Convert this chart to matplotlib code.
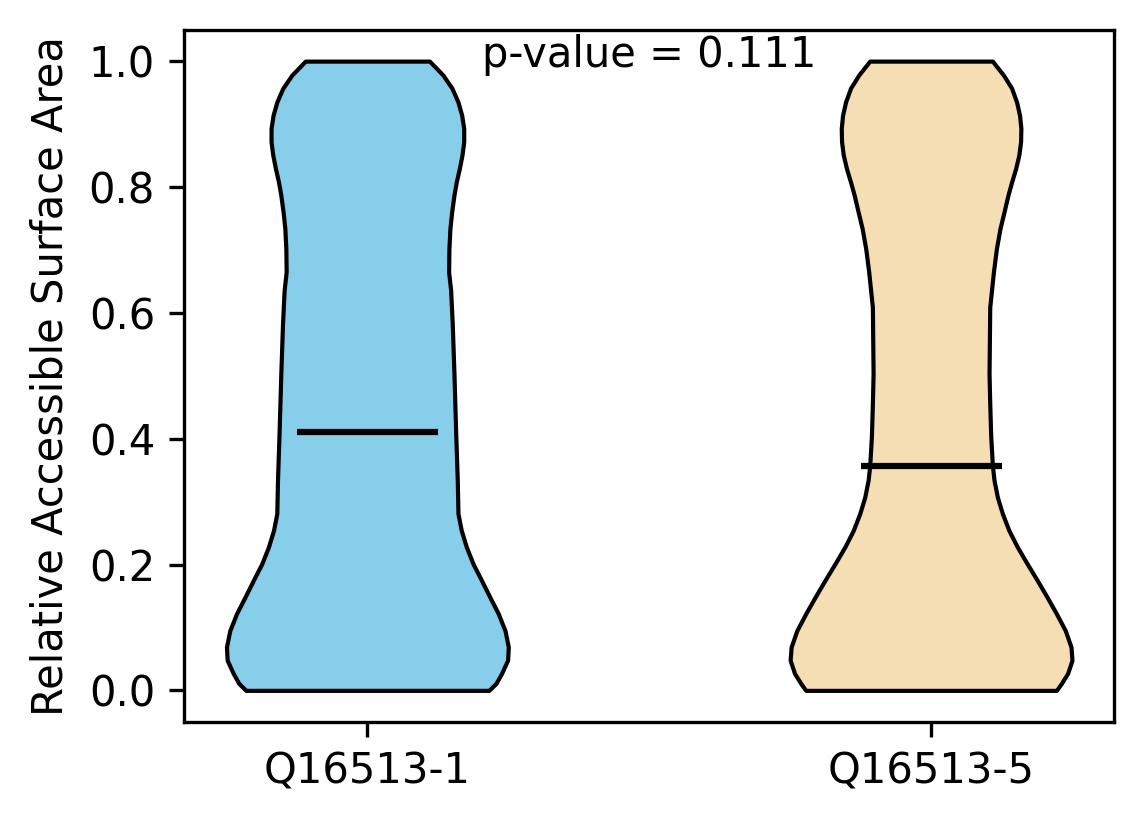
import numpy as np
import matplotlib
matplotlib.use("Agg")
import matplotlib.pyplot as plt

# groups and annotation
labels = ['Q16513-1', 'Q16513-5']
colors = ['skyblue', 'wheat']
p_value = 0.111

# violin outlines: RSA level -> relative density (half width)
rsa_1 = [0.0, 0.011, 0.027, 0.048, 0.069, 0.095, 0.122, 0.148, 0.175, 0.201,
         0.228, 0.254, 0.281, 0.334, 0.411, 0.504, 0.583, 0.636, 0.665, 0.702,
         0.734, 0.760, 0.787, 0.808, 0.829, 0.851, 0.872, 0.893, 0.914, 0.935,
         0.957, 0.978, 1.0]
dens_1 = [120.7, 127.7, 133.3, 139.3, 140.0, 136.7, 130.0, 121.7, 113.3, 105.0,
          98.3, 93.3, 90.0, 89.3, 87.7, 86.0, 84.3, 82.7, 80.7, 81.0,
          82.0, 83.7, 86.0, 88.3, 91.3, 94.0, 95.7, 95.7, 93.7, 90.0,
          84.0, 75.0, 61.7]
mean_1 = 0.411

rsa_5 = [0.0, 0.011, 0.027, 0.048, 0.069, 0.095, 0.122, 0.148, 0.175, 0.201,
         0.228, 0.254, 0.281, 0.307, 0.334, 0.357, 0.403, 0.456, 0.503, 0.609,
         0.665, 0.702, 0.734, 0.760, 0.787, 0.808, 0.829, 0.851, 0.872, 0.893,
         0.914, 0.935, 0.957, 0.978, 1.0]
dens_5 = [126.0, 131.0, 137.3, 141.7, 140.7, 135.0, 126.0, 116.7, 106.7, 96.7,
          86.7, 78.3, 71.7, 66.7, 63.3, 61.7, 60.0, 59.0, 58.3, 59.0,
          62.7, 65.7, 69.3, 73.3, 77.3, 81.0, 85.0, 88.3, 90.0, 90.3,
          89.0, 86.0, 81.0, 72.7, 61.7]
mean_5 = 0.357

stats = []
for rsa, dens, mean in [(rsa_1, dens_1, mean_1), (rsa_5, dens_5, mean_5)]:
    stats.append({'coords': np.array(rsa), 'vals': np.array(dens),
                  'mean': mean, 'median': mean,
                  'min': min(rsa), 'max': max(rsa)})

fig, ax = plt.subplots(figsize=(1144 / 300, 824 / 300), dpi=300)
fig.subplots_adjust(left=0.161, right=0.974, top=0.964, bottom=0.124)

parts = ax.violin(stats, positions=[1, 2], widths=0.5,
                  showmeans=True, showextrema=False, showmedians=False)
for body, c in zip(parts['bodies'], colors):
    body.set_facecolor(c)
    body.set_edgecolor('black')
    body.set_linewidth(1)
    body.set_alpha(1)
parts['cmeans'].set_color('black')
parts['cmeans'].set_linewidth(1.5)

ax.set_xticks([1, 2])
ax.set_xticklabels(labels)
ax.set_ylabel('Relative Accessible Surface Area')
ax.text(1.5, 1.01, f'p-value = {p_value}', ha='center', va='center')

fig.savefig('out.png', dpi=300)
